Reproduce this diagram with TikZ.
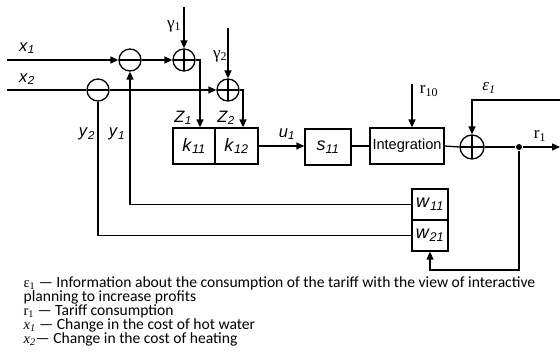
\documentclass[tikz,border=0pt]{standalone}
\usepackage{fontspec}
\setmainfont{Liberation Sans}
\newfontfamily\legendfont{Carlito}
\newfontfamily\greekfont{Liberation Serif}
\usetikzlibrary{arrows.meta}
\newcommand{\isub}[2]{\textit{#1}\textsubscript{\textit{#2}}}
\newcommand{\legsym}[2]{{\greekfont\fontsize{14.5}{15}\selectfont #1\textsubscript{#2}}}

\begin{document}
\begin{tikzpicture}[x=1pt, y=-1pt, line width=1.3pt,
  box/.style={draw, minimum height=36pt, inner sep=0pt, font=\fontsize{18}{20}\selectfont},
  minusnode/.style={draw, circle, minimum size=22pt, inner sep=0pt,
    path picture={\draw (path picture bounding box.west) -- (path picture bounding box.east);}},
  plusnode/.style={draw, circle, minimum size=22pt, inner sep=0pt,
    path picture={\draw (path picture bounding box.west) -- (path picture bounding box.east)
      (path picture bounding box.north) -- (path picture bounding box.south);}},
  tag/.style={inner sep=0pt, font=\fontsize{16.5}{18}\selectfont},
  gtag/.style={inner sep=0pt, font=\greekfont\fontsize{17}{19}\selectfont},
  legline/.style={anchor=base west, inner sep=0pt, text height=10.5pt, text depth=2.5pt,
    font=\legendfont\fontsize{15.6}{16}\selectfont},
  arrow/.style={-{Triangle[length=8pt, width=7pt]}}
]
\useasboundingbox (0,0) rectangle (560,360);

% Inputs and comparators
\coordinate (x1in) at (7,60);
\coordinate (x2in) at (7,90);
\node[minusnode] (minusA) at (130,60) {};
\node[minusnode] (minusB) at (98,90) {};
\node[tag] (x1lbl) at (27,48) {\isub{x}{1}};
\node[tag] (x2lbl) at (27,79) {\isub{x}{2}};

% Adders with disturbances
\node[plusnode] (plusA) at (184,60) {};
\node[plusnode] (plusB) at (228,90) {};
\coordinate (g1top) at (184,7);
\coordinate (g2top) at (228,28);
\node[gtag] (g1lbl) at (174,26) {γ\textsubscript{1}};
\node[gtag] (g2lbl) at (220,56) {γ\textsubscript{2}};

% Blocks
\node[box, minimum width=42pt] (k11) at (194,146) {\isub{k}{11}};
\node[box, minimum width=43pt] (k12) at (236.5,146) {\isub{k}{12}};
\node[box, minimum width=46pt] (s11) at (328,147) {\isub{s}{11}};
\node[box, minimum width=74pt, font=\fontsize{14.6}{16}\selectfont] (integ) at (407,146) {Integration};
\node[tag] (z1lbl) at (183,118) {\isub{Z}{1}};
\node[tag] (z2lbl) at (226,118) {\isub{Z}{2}};
\node[tag] (u1lbl) at (287,134) {\isub{u}{1}};

% Output adder
\node[plusnode, minimum size=24pt] (plusC) at (472,147) {};
\node[circle, fill, inner sep=0pt, minimum size=6pt] (dot) at (519,147) {};
\coordinate (r10top) at (412,84);
\coordinate (epsin) at (560,100);
\coordinate (rout) at (560,147);
\coordinate (loop) at (519,270);
\node[gtag] (r10lbl) at (429,91) {r\textsubscript{10}};
\node[gtag, font=\greekfont\itshape\fontsize{17}{19}\selectfont] (epslbl) at (489,88) {ε\textsubscript{1}};
\node[gtag] (r1lbl) at (540,136) {r\textsubscript{1}};

% Feedback blocks
\node[box, minimum width=36pt, minimum height=31pt] (w11) at (430,204.5) {\isub{w}{11}};
\node[box, minimum width=36pt, minimum height=31pt] (w21) at (430,235.5) {\isub{w}{21}};
\node[tag] (y2lbl) at (87,134) {\isub{y}{2}};
\node[tag] (y1lbl) at (117,134) {\isub{y}{1}};

% Connectors
\draw[arrow] (x1in) -- (minusA.west);
\draw (x2in) -- (minusB.west);
\draw[arrow] (minusA.east) -- (plusA.west);
\draw[arrow] (minusB.east) -- (plusB.west);
\draw[arrow] (g1top) -- (plusA.north);
\draw[arrow] (g2top) -- (plusB.north);
\draw[arrow] (plusA.east) -| ([xshift=6pt]k11.north);
\draw[arrow] (plusB.east) -| ([xshift=6.5pt]k12.north);
\draw[arrow] (k12.east) -- (k12.east -| s11.west);
\draw (s11.east |- integ.west) -- (integ.west);
\draw (integ.east) -- (plusC.west);
\draw[arrow] (r10top) -- (r10top |- integ.north);
\draw[arrow] (epsin) -| (plusC.north);
\draw (plusC.east) -- (dot);
\draw[arrow] (dot) -- (rout);
\draw[arrow] (dot) -- (loop) -| (w21.south);
\draw[arrow] (w11.west) -| (minusA.south);
\draw (w21.west) -| (minusB.south);

% Legend
\node[legline] (leg1) at (23,287) {\legsym{ε}{1} — Information about the consumption of the tariff with the view of interactive};
\node[legline] (leg2) at (23,301) {planning to increase profits};
\node[legline] (leg3) at (23,315) {\legsym{r}{1} — Tariff consumption};
\node[legline] (leg4) at (23,329) {\legsym{\itshape x}{1} — Change in the cost of hot water};
\node[legline] (leg5) at (23,343) {\legsym{\itshape x}{2}— Change in the cost of heating};

\end{tikzpicture}
\end{document}
